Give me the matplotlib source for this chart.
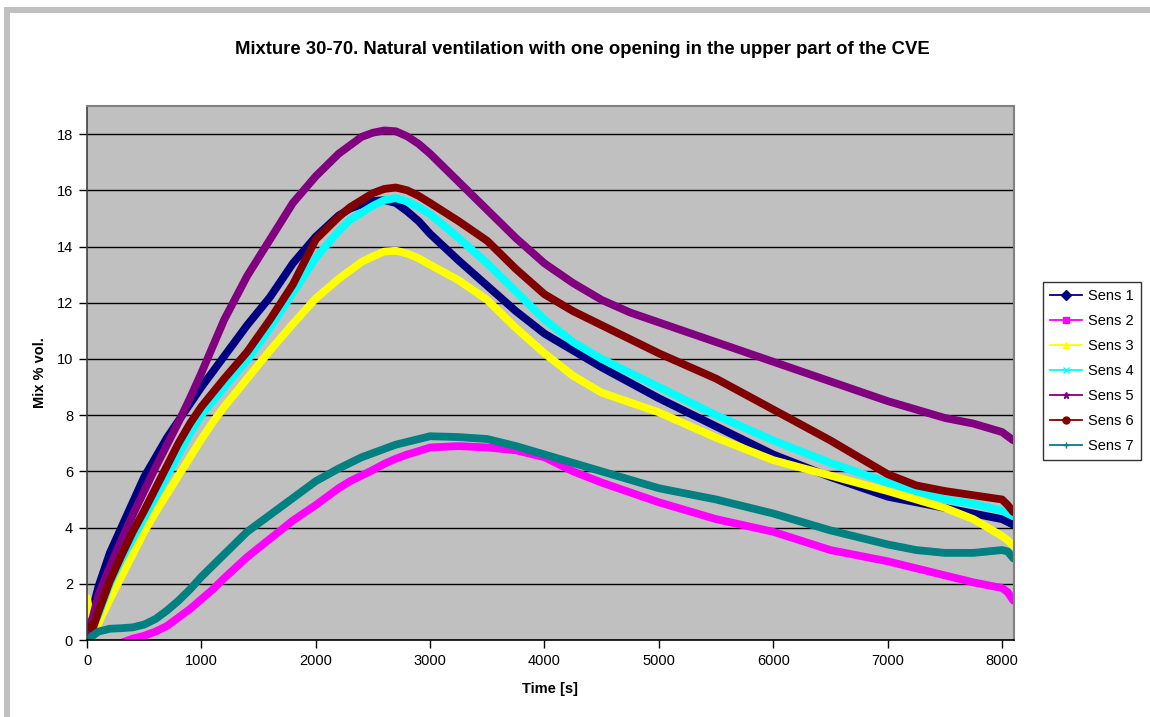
import matplotlib
matplotlib.use("Agg")
import matplotlib.pyplot as plt
from matplotlib.lines import Line2D
from matplotlib.patches import Rectangle

plt.rcParams['font.family'] = ['Liberation Sans', 'DejaVu Sans']

title = "Mixture 30-70. Natural ventilation with one opening in the upper part of the CVE"
xlabel = "Time [s]"
ylabel = "Mix % vol."

time_s = [0, 50, 100, 200, 300, 400, 500, 600, 700, 800,
          900, 1000, 1100, 1200, 1400, 1600, 1800, 2000, 2200, 2300,
          2400, 2500, 2600, 2700, 2800, 2900, 3000, 3250, 3500, 3750,
          4000, 4250, 4500, 4750, 5000, 5500, 6000, 6500, 7000, 7250,
          7500, 7750, 8000, 8050, 8100]

sens1 = [0.5, 1.1, 1.9, 3.1, 4.0, 4.9, 5.8, 6.5, 7.2, 7.8,
         8.4, 9.0, 9.55, 10.1, 11.2, 12.2, 13.4, 14.35, 15.1, 15.35,
         15.5, 15.62, 15.65, 15.55, 15.25, 14.9, 14.45, 13.5, 12.6, 11.7,
         10.9, 10.3, 9.7, 9.15, 8.6, 7.6, 6.6, 5.8, 5.1, 4.9,
         4.7, 4.5, 4.3, 4.2, 4.1]
sens2 = [0.6, -0.3, -0.5, -0.4, -0.1, 0.05, 0.15, 0.3, 0.5, 0.8,
         1.1, 1.45, 1.8, 2.2, 2.95, 3.6, 4.25, 4.8, 5.4, 5.65,
         5.85, 6.05, 6.27, 6.45, 6.6, 6.72, 6.85, 6.9, 6.85, 6.75,
         6.5, 6.0, 5.6, 5.25, 4.9, 4.3, 3.85, 3.2, 2.8, 2.55,
         2.3, 2.05, 1.85, 1.7, 1.4]
sens3 = [1.5, 0.3, 0.6, 1.45, 2.25, 3.05, 3.85, 4.55, 5.2, 5.85,
         6.5, 7.15, 7.75, 8.3, 9.3, 10.3, 11.25, 12.15, 12.85, 13.15,
         13.45, 13.65, 13.82, 13.85, 13.75, 13.58, 13.35, 12.8, 12.1, 11.1,
         10.2, 9.4, 8.8, 8.45, 8.1, 7.2, 6.4, 5.85, 5.3, 5.0,
         4.7, 4.3, 3.7, 3.55, 3.35]
sens4 = [0.2, 0.5, 0.9, 2.0, 2.85, 3.6, 4.35, 5.1, 5.85, 6.6,
         7.35, 8.0, 8.5, 9.0, 9.95, 11.1, 12.35, 13.6, 14.55, 14.95,
         15.2, 15.45, 15.65, 15.72, 15.6, 15.4, 15.15, 14.3, 13.4, 12.4,
         11.4, 10.6, 10.0, 9.5, 9.0, 8.0, 7.1, 6.3, 5.6, 5.3,
         5.0, 4.85, 4.6, 4.5, 4.4]
sens5 = [0.3, 0.8, 1.6, 2.6, 3.55, 4.45, 5.3, 6.15, 6.95, 7.75,
         8.6, 9.5, 10.45, 11.4, 12.95, 14.25, 15.55, 16.5, 17.3, 17.6,
         17.9, 18.05, 18.13, 18.1, 17.92, 17.65, 17.3, 16.3, 15.3, 14.3,
         13.4, 12.7, 12.1, 11.65, 11.3, 10.6, 9.9, 9.2, 8.5, 8.2,
         7.9, 7.7, 7.4, 7.25, 7.1]
sens6 = [0.5, 0.4, 1.0, 2.1, 3.0, 3.85, 4.6, 5.4, 6.2, 7.0,
         7.7, 8.3, 8.8, 9.3, 10.25, 11.4, 12.65, 14.25, 15.05, 15.4,
         15.65, 15.9, 16.05, 16.1, 16.0, 15.8, 15.55, 14.9, 14.2, 13.2,
         12.3, 11.7, 11.2, 10.7, 10.2, 9.3, 8.2, 7.1, 5.9, 5.5,
         5.3, 5.15, 5.0, 4.8, 4.55]
sens7 = [0.0, 0.15, 0.3, 0.4, 0.42, 0.45, 0.55, 0.75, 1.05, 1.4,
         1.8, 2.25, 2.65, 3.05, 3.85, 4.45, 5.05, 5.65, 6.1, 6.3,
         6.5, 6.65, 6.8, 6.95, 7.05, 7.15, 7.25, 7.22, 7.15, 6.9,
         6.6, 6.3, 6.0, 5.7, 5.4, 5.0, 4.5, 3.9, 3.4, 3.2,
         3.1, 3.1, 3.2, 3.15, 2.9]

series_names = ["Sens 1", "Sens 2", "Sens 3", "Sens 4", "Sens 5", "Sens 6", "Sens 7"]
series_values = [sens1, sens2, sens3, sens4, sens5, sens6, sens7]
colors = ["#000080", "#FF00FF", "#FFFF00", "#00FFFF", "#800080", "#800000", "#008080"]
markers = ["D", "s", "^", "x", "*", "o", "+"]

fig = plt.figure(figsize=(11.5, 7.17), dpi=100)
fig.patch.set_facecolor("white")

# gray outer frame bands (top and left)
fig.add_artist(Rectangle((4 / 1150, 0), 6 / 1150, 1 - 7 / 717, transform=fig.transFigure,
                         facecolor="#C0C0C0", edgecolor="none"))
fig.add_artist(Rectangle((4 / 1150, 1 - 12.5 / 717), 1, 5.5 / 717, transform=fig.transFigure,
                         facecolor="#C0C0C0", edgecolor="none"))

ax = fig.add_axes([87 / 1150, 1 - 640 / 717, (1014 - 87) / 1150, (640 - 106) / 717])
ax.set_facecolor("#C0C0C0")

for name, vals, c in zip(series_names, series_values, colors):
    ax.plot(time_s, vals, color=c, lw=5.6, solid_joinstyle="round",
            solid_capstyle="round")

ax.set_xlim(0, 8105)
ax.set_ylim(0, 19)
ax.set_xticks(range(0, 8001, 1000))
ax.set_yticks(range(0, 19, 2))
ax.yaxis.grid(True, color="black", lw=1.0)
ax.set_axisbelow(True)
ax.tick_params(axis="both", direction="out", length=6, width=1, color="black",
               labelsize=10.5, labelcolor="black", pad=4)

for side in ["top", "right"]:
    ax.spines[side].set_color("#808080")
    ax.spines[side].set_linewidth(1.5)
ax.spines["left"].set_color("#404040")
ax.spines["bottom"].set_color("black")
ax.spines["left"].set_linewidth(1.2)
ax.spines["bottom"].set_linewidth(1.2)

ax.set_xlabel(xlabel, fontsize=10.5, fontweight="bold", labelpad=10)
ax.set_ylabel(ylabel, fontsize=10.5, fontweight="bold", labelpad=7)

fig.text(582 / 1150, 1 - 50 / 717, title, ha="center", va="center", fontsize=13.3,
         fontweight="bold")

handles = [Line2D([0], [0], color=c, lw=1.3, marker=m, markersize=5,
                  markerfacecolor=c, markeredgecolor=c)
           for c, m in zip(colors, markers)]
leg = fig.legend(handles, series_names, loc="upper left",
                 bbox_to_anchor=(1043 / 1150, 1 - 282 / 717),
                 frameon=True, fancybox=False, shadow=False, fontsize=10.5,
                 handlelength=2.2, handletextpad=0.4, labelspacing=0.75,
                 borderpad=0.5, borderaxespad=0)
leg.get_frame().set_edgecolor("black")
leg.get_frame().set_linewidth(1.0)

fig.savefig("out.png", dpi=100)
